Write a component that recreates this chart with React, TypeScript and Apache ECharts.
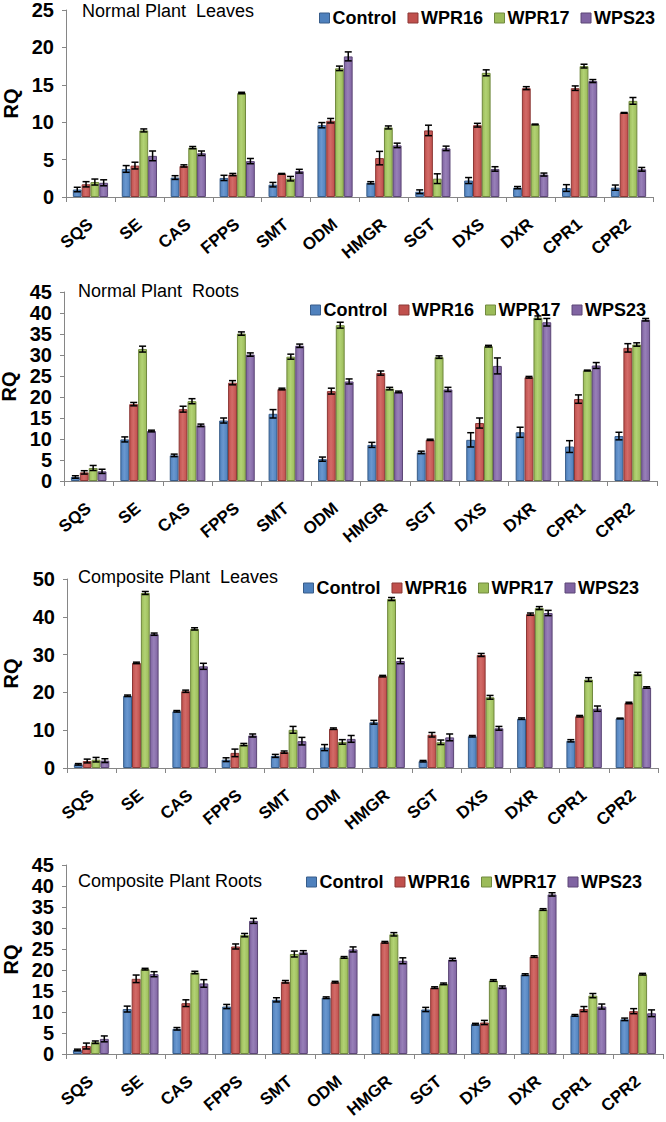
import React, { useEffect, useRef } from "react";
import * as echarts from "echarts";

const genes = ["SQS", "SE", "CAS", "FPPS", "SMT", "ODM", "HMGR", "SGT", "DXS", "DXR", "CPR1", "CPR2"];
const seriesNames = ["Control", "WPR16", "WPR17", "WPS23"];
const panelTitles = ["Normal Plant  Leaves", "Normal Plant  Roots", "Composite Plant  Leaves", "Composite Plant Roots"];
const yMax = [25, 45, 50, 45];
const yInterval = [5, 5, 10, 5];

// Normal Plant Leaves
const nlControl = [1.0, 3.75, 2.6, 2.55, 1.65, 9.6, 1.9, 0.7, 2.2, 1.25, 1.2, 1.25];
const nlWPR16 = [1.7, 4.2, 4.15, 3.0, 3.1, 10.2, 5.2, 8.9, 9.6, 14.55, 14.55, 11.25];
const nlWPR17 = [2.0, 8.9, 6.6, 13.9, 2.45, 17.2, 9.3, 2.45, 16.6, 9.7, 17.5, 12.85];
const nlWPS23 = [1.9, 5.5, 5.85, 4.8, 3.45, 18.8, 6.9, 6.5, 3.75, 3.0, 15.5, 3.7];
const nlErrControl = [0.3, 0.45, 0.25, 0.35, 0.3, 0.35, 0.15, 0.25, 0.4, 0.15, 0.45, 0.35];
const nlErrWPR16 = [0.35, 0.45, 0.15, 0.15, 0.05, 0.3, 0.9, 0.7, 0.25, 0.2, 0.3, 0.05];
const nlErrWPR17 = [0.4, 0.2, 0.15, 0.1, 0.3, 0.3, 0.2, 0.65, 0.4, 0.05, 0.25, 0.45];
const nlErrWPS23 = [0.4, 0.65, 0.3, 0.35, 0.25, 0.6, 0.3, 0.3, 0.3, 0.2, 0.2, 0.25];

// Normal Plant Roots
const nrControl = [0.95, 9.9, 6.1, 14.4, 16.0, 5.2, 8.6, 6.8, 9.8, 11.6, 8.2, 10.7];
const nrWPR16 = [2.05, 18.3, 17.1, 23.4, 21.9, 21.4, 25.7, 9.8, 13.8, 24.7, 19.5, 31.7];
const nrWPR17 = [3.1, 31.4, 19.0, 35.1, 29.6, 37.1, 22.0, 29.5, 32.1, 38.9, 26.3, 32.5];
const nrWPS23 = [2.3, 11.9, 13.25, 30.1, 32.2, 23.7, 21.2, 21.8, 27.4, 37.8, 27.5, 38.4];
const nrErrControl = [0.3, 0.6, 0.3, 0.6, 1.0, 0.5, 0.6, 0.3, 1.7, 1.2, 1.4, 0.9];
const nrErrWPR16 = [0.4, 0.4, 0.7, 0.5, 0.2, 0.7, 0.5, 0.15, 1.2, 0.2, 1.0, 1.0];
const nrErrWPR17 = [0.6, 0.7, 0.6, 0.4, 0.6, 0.7, 0.3, 0.3, 0.2, 0.4, 0.1, 0.4];
const nrErrWPS23 = [0.5, 0.2, 0.3, 0.4, 0.4, 0.6, 0.2, 0.5, 1.9, 0.9, 0.7, 0.3];

// Composite Plant Leaves
const clControl = [0.97, 19.1, 15.0, 2.2, 3.2, 5.4, 12.1, 1.8, 8.4, 13.05, 7.2, 13.1];
const clWPR16 = [1.85, 27.8, 20.3, 4.0, 4.2, 10.4, 24.3, 8.8, 29.9, 40.7, 13.7, 17.2];
const clWPR17 = [2.2, 46.3, 36.8, 6.2, 10.1, 6.9, 44.7, 6.8, 18.7, 42.3, 23.4, 24.9];
const clWPS23 = [1.95, 35.4, 26.9, 8.6, 7.1, 7.7, 28.3, 8.1, 10.5, 41.0, 15.7, 21.3];
const clErrControl = [0.2, 0.2, 0.2, 0.5, 0.4, 0.8, 0.5, 0.2, 0.2, 0.2, 0.3, 0.1];
const clErrWPR16 = [0.5, 0.2, 0.3, 1.0, 0.3, 0.2, 0.2, 0.6, 0.4, 0.3, 0.2, 0.2];
const clErrWPR17 = [0.6, 0.4, 0.3, 0.3, 0.9, 0.6, 0.4, 0.6, 0.5, 0.4, 0.5, 0.4];
const clErrWPS23 = [0.5, 0.3, 0.8, 0.4, 1.0, 0.9, 0.7, 0.9, 0.5, 0.7, 0.7, 0.2];

// Composite Plant Roots
const crControl = [0.95, 10.7, 6.0, 11.3, 12.9, 13.4, 9.3, 10.6, 7.1, 18.9, 9.2, 8.25];
const crWPR16 = [1.9, 17.9, 12.1, 25.6, 17.2, 17.1, 26.6, 15.8, 7.5, 23.2, 10.7, 10.2];
const crWPR17 = [2.8, 20.2, 19.4, 28.3, 23.8, 23.0, 28.5, 16.7, 17.5, 34.4, 13.9, 19.0];
const crWPS23 = [3.6, 19.0, 16.8, 31.7, 24.2, 24.9, 22.2, 22.5, 15.9, 38.0, 11.3, 9.7];
const crErrControl = [0.2, 0.7, 0.3, 0.5, 0.5, 0.2, 0.1, 0.5, 0.2, 0.2, 0.2, 0.3];
const crErrWPR16 = [0.7, 0.9, 0.8, 0.6, 0.3, 0.2, 0.2, 0.2, 0.5, 0.2, 0.6, 0.6];
const crErrWPR17 = [0.3, 0.2, 0.3, 0.4, 0.7, 0.2, 0.4, 0.2, 0.2, 0.2, 0.5, 0.2];
const crErrWPS23 = [0.7, 0.6, 0.9, 0.6, 0.4, 0.6, 0.7, 0.3, 0.3, 0.4, 0.6, 0.8];

const panelValues = [
  [nlControl, nlWPR16, nlWPR17, nlWPS23],
  [nrControl, nrWPR16, nrWPR17, nrWPS23],
  [clControl, clWPR16, clWPR17, clWPS23],
  [crControl, crWPR16, crWPR17, crWPS23],
];
const panelErrors = [
  [nlErrControl, nlErrWPR16, nlErrWPR17, nlErrWPS23],
  [nrErrControl, nrErrWPR16, nrErrWPR17, nrErrWPS23],
  [clErrControl, clErrWPR16, clErrWPR17, clErrWPS23],
  [crErrControl, crErrWPR16, crErrWPR17, crErrWPS23],
];

const colors = ["#4F81BD", "#C0504D", "#9BBB59", "#8064A2"];
const lights = ["#6A97CF", "#D26B68", "#B2D274", "#9880B8"];
const borders = ["#385D8A", "#8C3836", "#71893F", "#5C4776"];

// layout (pixels)
const grids = [
  { left: 66, right: 13, top: 10, height: 187 },
  { left: 64, right: 9, top: 292, height: 189 },
  { left: 67, right: 8, top: 579, height: 189 },
  { left: 66, right: 3, top: 865, height: 189 },
];
const nameGaps = [45, 43, 46, 45];
const titlePos = [
  { x: 82, y: 11 },
  { x: 78, y: 291 },
  { x: 78, y: 577 },
  { x: 78, y: 881 },
];
const legendPos = [
  { x: 314, y: 14 },
  { x: 305, y: 306 },
  { x: 298, y: 584 },
  { x: 301, y: 878 },
];

const BAR_FRAC = 0.18;
const FONT = "Liberation Sans";

export default function App() {
  const ref = useRef<HTMLDivElement>(null);
  useEffect(() => {
    if (!ref.current) return;
    const chart = echarts.init(ref.current, null, { renderer: "svg" });

    const xAxes: any[] = [];
    const yAxes: any[] = [];
    const series: any[] = [];
    const legends: any[] = [];
    const graphics: any[] = [];

    for (let p = 0; p < 4; p++) {
      xAxes.push({
        type: "category",
        gridIndex: p,
        data: genes,
        axisLine: { lineStyle: { color: "#868686", width: 1 } },
        axisTick: { show: true, length: 5, lineStyle: { color: "#868686" } },
        axisLabel: {
          interval: 0,
          rotate: 40,
          margin: 25,
          fontSize: 17,
          fontWeight: "bold",
          color: "#000",
          fontFamily: FONT,
        },
      });
      yAxes.push({
        type: "value",
        gridIndex: p,
        min: 0,
        max: yMax[p],
        interval: yInterval[p],
        name: "RQ",
        nameLocation: "middle",
        nameRotate: 90,
        nameGap: nameGaps[p],
        nameTextStyle: { fontSize: 20, fontWeight: "bold", color: "#000", fontFamily: FONT },
        axisLine: { show: true, lineStyle: { color: "#868686", width: 1 } },
        axisTick: { show: true, length: 4, lineStyle: { color: "#868686" } },
        splitLine: { show: false },
        axisLabel: { margin: 12, fontSize: 20, fontWeight: "bold", color: "#000", fontFamily: FONT },
      });
      for (let s = 0; s < 4; s++) {
        series.push({
          type: "bar",
          name: seriesNames[s],
          xAxisIndex: p,
          yAxisIndex: p,
          barWidth: BAR_FRAC * 100 + "%",
          barGap: "0%",
          data: panelValues[p][s],
          itemStyle: {
            color: new echarts.graphic.LinearGradient(0, 0, 1, 0, [
              { offset: 0, color: colors[s] },
              { offset: 0.45, color: lights[s] },
              { offset: 1, color: colors[s] },
            ]),
            borderColor: borders[s],
            borderWidth: 1,
          },
        });
      }
      for (let s = 0; s < 4; s++) {
        const vals = panelValues[p][s];
        const errs = panelErrors[p][s];
        series.push({
          type: "custom",
          name: "err" + p + s,
          xAxisIndex: p,
          yAxisIndex: p,
          z: 10,
          encode: { x: 0, y: 1 },
          data: vals.map((v, i) => [i, v, errs[i]]),
          renderItem: (params: any, api: any) => {
            const ci = api.value(0);
            const v = api.value(1);
            const e = api.value(2);
            const top = api.coord([ci, v + e]);
            const bot = api.coord([ci, Math.max(0, v - e)]);
            const catW = api.size([1, 0])[0];
            const x = top[0] + (s - 1.5) * catW * BAR_FRAC;
            const cap = 3.5;
            const st = { stroke: "#000", lineWidth: 1.5 };
            return {
              type: "group",
              children: [
                { type: "line", shape: { x1: x, y1: top[1], x2: x, y2: bot[1] }, style: st },
                { type: "line", shape: { x1: x - cap, y1: top[1], x2: x + cap, y2: top[1] }, style: st },
                { type: "line", shape: { x1: x - cap, y1: bot[1], x2: x + cap, y2: bot[1] }, style: st },
              ],
            };
          },
        });
      }
      legends.push({
        data: seriesNames.map((n, s) => ({
          name: n,
          itemStyle: { color: colors[s], borderColor: borders[s], borderWidth: 1 },
        })),
        left: legendPos[p].x,
        top: legendPos[p].y - 10,
        icon: "rect",
        itemWidth: 10,
        itemHeight: 10,
        itemGap: 11,
        selectedMode: false,
        textStyle: { fontSize: 18, fontWeight: "bold", color: "#000", fontFamily: FONT, padding: [0, 0, 0, -2] },
      });
      graphics.push({
        type: "text",
        x: titlePos[p].x,
        y: titlePos[p].y,
        style: {
          text: panelTitles[p],
          font: "normal 18px " + FONT,
          fill: "#000",
          verticalAlign: "middle",
        },
      });
    }

    chart.setOption({
      animation: false,
      backgroundColor: "#fff",
      grid: grids.map((g) => ({ ...g, containLabel: false, outerBoundsMode: "none" })),
      xAxis: xAxes,
      yAxis: yAxes,
      legend: legends,
      graphic: graphics,
      series,
    });
    return () => chart.dispose();
  }, []);
  return <div ref={ref} style={{ position: "fixed", left: 0, top: 0, width: 666, height: 1122 }} />;
}
